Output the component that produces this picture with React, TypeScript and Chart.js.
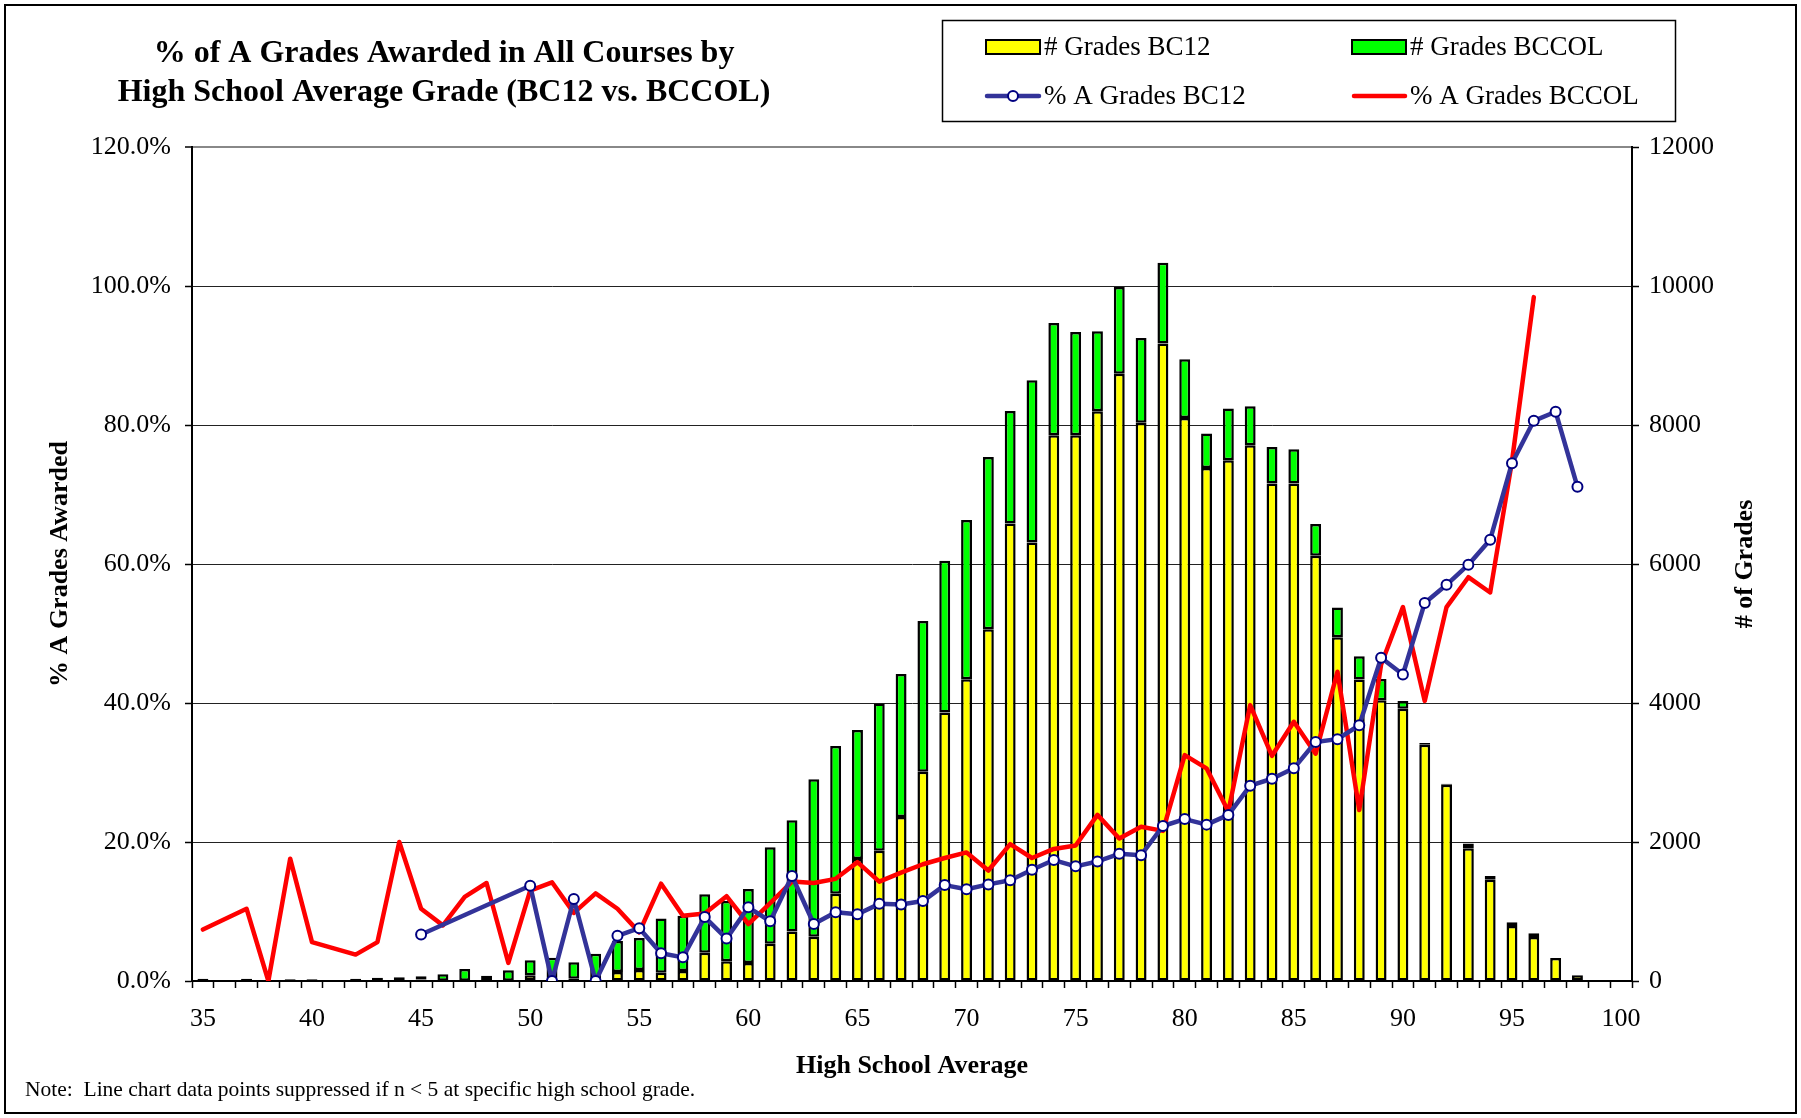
import { useEffect, useRef } from 'react';
import { Chart, registerables } from 'chart.js';

Chart.register(...registerables);

const SERIF = '"Liberation Serif", "Times New Roman", Times, serif';

const TITLE_LINES = ['% of A Grades Awarded in All Courses by', 'High School Average Grade (BC12 vs. BCCOL)'];
const X_TITLE = 'High School Average';
const Y_TITLE = '% A Grades Awarded';
const Y2_TITLE = '# of Grades';
const NOTE = 'Note:  Line chart data points suppressed if n < 5 at specific high school grade.';

const SERIES_NAMES = ['# Grades BC12', '# Grades BCCOL', '% A Grades BC12', '% A Grades BCCOL'];

const GRADES = [
  35, 36, 37, 38, 39, 40, 41, 42, 43, 44,
  45, 46, 47, 48, 49, 50, 51, 52, 53, 54,
  55, 56, 57, 58, 59, 60, 61, 62, 63, 64,
  65, 66, 67, 68, 69, 70, 71, 72, 73, 74,
  75, 76, 77, 78, 79, 80, 81, 82, 83, 84,
  85, 86, 87, 88, 89, 90, 91, 92, 93, 94,
  95, 96, 97, 98, 99, 100,
];

const BC12_COUNT = [
  3, 0, 3, 0, 3, 3, 0, 3, 3, 3,
  20, 3, 3, 2, 3, 82, 34, 34, 19, 130,
  160, 120, 145, 408, 283, 258, 535, 712, 635, 1255,
  1755, 1873, 2361, 3010, 3864, 4340, 5060, 6581, 6308, 7851,
  7851, 8197, 8739, 8034, 9171, 8100, 7381, 7492, 7708, 7157,
  7157, 6120, 4945, 4337, 4041, 3918, 3400, 2825, 1911, 1457,
  790, 632, 330, 82, 0, 0,
];

const BCCOL_COUNT = [
  30, 0, 30, 8, 22, 22, 3, 30, 45, 50,
  47, 93, 170, 75, 150, 215, 302, 235, 374, 446,
  460, 781, 795, 839, 868, 1067, 1388, 1601, 2269, 2128,
  1857, 2120, 2057, 2170, 2182, 2294, 2480, 1620, 2335, 1616,
  1487, 1151, 1246, 1218, 1165, 845, 495, 744, 561, 526,
  493, 455, 428, 337, 303, 110, 23, 14, 68, 55,
  55, 55, 2, 0, 0, 0,
];

const BC12_PCT = [
  null, null, null, null, null, null, null, null, null, null,
  6.7, null, null, null, null, 13.7, 0, 11.8, 0, 6.5,
  7.6, 4.0, 3.4, 9.2, 6.1, 10.6, 8.6, 15.1, 8.2, 9.9,
  9.6, 11.1, 11.0, 11.5, 13.8, 13.2, 13.9, 14.5, 16.0, 17.4,
  16.5, 17.2, 18.3, 18.1, 22.3, 23.3, 22.5, 23.9, 28.1, 29.1,
  30.6, 34.4, 34.8, 36.8, 46.5, 44.1, 54.4, 57.0, 59.9, 63.5,
  74.5, 80.6, 81.9, 71.1, null, null,
];

const BCCOL_PCT = [
  7.4, null, 10.4, 0, 17.6, 5.6, null, 3.8, 5.6, 20.0,
  10.4, 8.0, 12.1, 14.1, 2.6, 13.0, 14.2, 9.8, 12.6, 10.4,
  7.0, 14.0, 9.4, 9.7, 12.2, 8.2, 11.2, 14.3, 14.1, 14.7,
  17.1, 14.3, 15.6, 16.8, 17.7, 18.5, 15.9, 19.7, 17.7, 19.0,
  19.5, 23.9, 20.5, 22.2, 21.6, 32.5, 30.6, 24.4, 39.7, 32.4,
  37.3, 32.7, 44.5, 24.6, 45.5, 53.8, 40.3, 53.8, 58.1, 55.9,
  74.8, 98.4, null, null, null, null,
];

const YELLOW = '#FFFF00';
const GREEN = '#00FF00';
const BLUE_LINE = '#333399';
const NAVY = '#000080';
const RED = '#FF0000';

const decorPlugin = {
  id: 'decor',
  beforeDraw(chart: any) {
    const ctx = chart.ctx;
    ctx.save();
    ctx.fillStyle = '#fff';
    ctx.fillRect(0, 0, chart.width, chart.height);
    ctx.restore();
  },
  afterDraw(chart: any) {
    const ctx = chart.ctx as CanvasRenderingContext2D;
    ctx.save();
    // outer border
    ctx.strokeStyle = '#000';
    ctx.lineWidth = 2;
    ctx.strokeRect(5, 5, 1791, 1108);

    // title
    ctx.fillStyle = '#000';
    ctx.textAlign = 'center';
    ctx.textBaseline = 'middle';
    ctx.font = `bold 32px ${SERIF}`;
    TITLE_LINES.forEach((t, i) => ctx.fillText(t, 444, 54 + i * 39));

    // legend box
    ctx.lineWidth = 1.5;
    ctx.strokeStyle = '#000';
    ctx.strokeRect(942.5, 20.5, 733, 101);

    ctx.font = `27px ${SERIF}`;
    ctx.textAlign = 'left';
    // bar swatches
    ctx.lineWidth = 2;
    ctx.fillStyle = YELLOW;
    ctx.fillRect(986, 40, 54, 14);
    ctx.strokeRect(986, 40, 54, 14);
    ctx.fillStyle = GREEN;
    ctx.fillRect(1352, 40, 54, 14);
    ctx.strokeRect(1352, 40, 54, 14);

    ctx.fillStyle = '#000';
    ctx.fillText(SERIES_NAMES[0], 1044, 48);
    ctx.fillText(SERIES_NAMES[1], 1410, 48);

    // line swatches
    ctx.lineCap = 'round';
    ctx.lineWidth = 4.5;
    ctx.strokeStyle = BLUE_LINE;
    ctx.beginPath();
    ctx.moveTo(987, 96);
    ctx.lineTo(1039, 96);
    ctx.stroke();
    ctx.beginPath();
    ctx.arc(1013, 96, 5, 0, Math.PI * 2);
    ctx.fillStyle = '#fff';
    ctx.fill();
    ctx.lineWidth = 2;
    ctx.strokeStyle = NAVY;
    ctx.stroke();

    ctx.lineWidth = 4.5;
    ctx.strokeStyle = RED;
    ctx.beginPath();
    ctx.moveTo(1354, 96);
    ctx.lineTo(1405, 96);
    ctx.stroke();

    ctx.fillStyle = '#000';
    ctx.fillText(SERIES_NAMES[2], 1044, 97);
    ctx.fillText(SERIES_NAMES[3], 1410, 97);

    // right axis title (reads bottom to top)
    ctx.save();
    ctx.translate(1745, 564);
    ctx.rotate(-Math.PI / 2);
    ctx.textAlign = 'center';
    ctx.textBaseline = 'middle';
    ctx.font = `bold 26px ${SERIF}`;
    ctx.fillText(Y2_TITLE, 0, 0);
    ctx.restore();

    // note
    ctx.font = `21.5px ${SERIF}`;
    ctx.textAlign = 'left';
    ctx.textBaseline = 'middle';
    ctx.fillStyle = '#000';
    ctx.fillText(NOTE, 25, 1090);

    ctx.restore();
  },
};

export default function App() {
  const ref = useRef<HTMLCanvasElement | null>(null);

  useEffect(() => {
    if (!ref.current) return;
    const tickFont = { family: SERIF, size: 26 };
    const chart = new Chart(ref.current, {
      type: 'bar',
      data: {
        labels: GRADES.map(String),
        datasets: [
          {
            type: 'line',
            label: SERIES_NAMES[2],
            data: BC12_PCT,
            yAxisID: 'y',
            borderColor: BLUE_LINE,
            borderWidth: 4.5,
            borderJoinStyle: 'round',
            borderCapStyle: 'round',
            pointRadius: 5,
            pointBackgroundColor: '#fff',
            pointBorderColor: NAVY,
            pointBorderWidth: 2,
            spanGaps: true,
            tension: 0,
            order: 0,
          } as any,
          {
            type: 'line',
            label: SERIES_NAMES[3],
            data: BCCOL_PCT,
            yAxisID: 'y',
            borderColor: RED,
            borderWidth: 4.5,
            borderJoinStyle: 'round',
            borderCapStyle: 'round',
            pointRadius: 0,
            spanGaps: true,
            tension: 0,
            order: 1,
          } as any,
          {
            type: 'bar',
            label: SERIES_NAMES[0],
            data: BC12_COUNT,
            yAxisID: 'y2',
            backgroundColor: YELLOW,
            borderColor: '#000',
            borderWidth: 2.5,
            borderSkipped: false,
            barPercentage: 0.5,
            categoryPercentage: 1,
            order: 2,
          } as any,
          {
            type: 'bar',
            label: SERIES_NAMES[1],
            data: BCCOL_COUNT,
            yAxisID: 'y2',
            backgroundColor: GREEN,
            borderColor: '#000',
            borderWidth: 2.5,
            borderSkipped: false,
            barPercentage: 0.5,
            categoryPercentage: 1,
            order: 3,
          } as any,
        ],
      },
      options: {
        responsive: false,
        animation: false,
        devicePixelRatio: 1,
        layout: { padding: { top: 147, left: 0, right: 0, bottom: 0 } },
        plugins: {
          legend: { display: false },
          title: { display: false },
          tooltip: { enabled: false },
        },
        scales: {
          x: {
            type: 'category',
            stacked: true,
            offset: true,
            grid: {
              offset: true,
              drawOnChartArea: false,
              drawTicks: true,
              tickLength: 7,
              color: '#000',
              tickColor: '#000',
              tickWidth: 1.5,
            },
            border: { color: '#000', width: 2 },
            ticks: {
              autoSkip: false,
              maxRotation: 0,
              minRotation: 0,
              padding: 16,
              color: '#000',
              font: tickFont,
              callback: (_v: any, i: number) => (GRADES[i] % 5 === 0 ? String(GRADES[i]) : ''),
            },
            title: {
              display: true,
              text: X_TITLE,
              color: '#000',
              font: { family: SERIF, size: 26, weight: 'bold' },
              padding: { top: 0, bottom: 36 },
            },
            afterFit: (s: any) => {
              s.height = 137;
            },
          } as any,
          y: {
            position: 'left',
            min: 0,
            max: 120,
            stacked: false,
            ticks: {
              stepSize: 20,
              padding: 14,
              color: '#000',
              font: tickFont,
              callback: (v: any) => Number(v).toFixed(1) + '%',
            },
            grid: {
              color: (c: any) => (c.tick && c.tick.value === 120 ? '#888' : '#222'),
              lineWidth: (c: any) => (c.tick && c.tick.value === 120 ? 2 : 1),
              tickLength: 7,
              tickColor: '#000',
              tickWidth: 1.5,
            },
            border: { color: '#000', width: 2 },
            title: {
              display: true,
              text: Y_TITLE,
              color: '#000',
              font: { family: SERIF, size: 26, weight: 'bold' },
              padding: { top: 45, bottom: 0 },
            },
            afterFit: (s: any) => {
              s.width = 192;
            },
          } as any,
          y2: {
            position: 'right',
            min: 0,
            max: 12000,
            stacked: true,
            ticks: {
              stepSize: 2000,
              padding: 10,
              color: '#000',
              font: tickFont,
              callback: (v: any) => String(Math.round(Number(v))),
            },
            grid: {
              drawOnChartArea: false,
              tickLength: 7,
              color: '#000',
              tickColor: '#000',
              tickWidth: 1.5,
            },
            border: { color: '#000', width: 2 },
            afterFit: (s: any) => {
              s.width = 169;
            },
          } as any,
        },
      },
      plugins: [decorPlugin],
    });
    return () => chart.destroy();
  }, []);

  return (
    <div style={{ position: 'fixed', left: 0, top: 0, width: 1801, height: 1118, background: '#fff' }}>
      <canvas ref={ref} width={1801} height={1118} style={{ display: 'block', width: 1801, height: 1118 }} />
    </div>
  );
}
